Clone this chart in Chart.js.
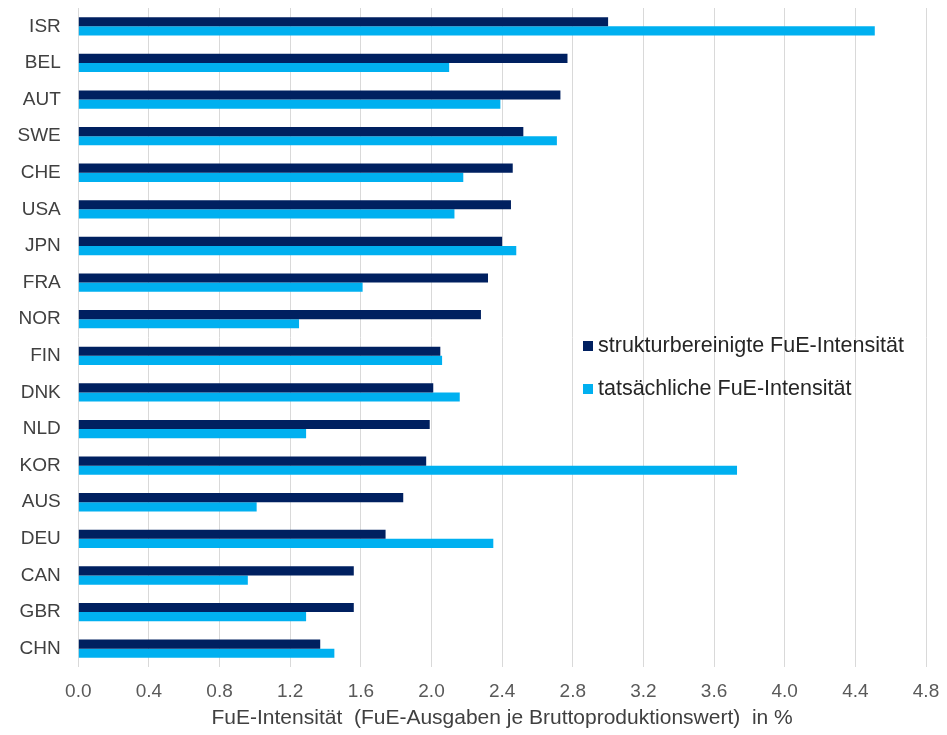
<!DOCTYPE html>
<html>
<head>
<meta charset="utf-8">
<script src="https://cdn.jsdelivr.net/npm/chart.js@4"></script>
<style>
  body { margin: 0; background: #fff; }
</style>
</head>
<body>
<canvas id="chart" width="947" height="735"></canvas>
<script>
const countries = ["ISR", "BEL", "AUT", "SWE", "CHE", "USA", "JPN", "FRA", "NOR", "FIN", "DNK", "NLD", "KOR", "AUS", "DEU", "CAN", "GBR", "CHN"];
const adjusted = [3.00, 2.77, 2.73, 2.52, 2.46, 2.45, 2.40, 2.32, 2.28, 2.05, 2.01, 1.99, 1.97, 1.84, 1.74, 1.56, 1.56, 1.37];
const actual = [4.51, 2.10, 2.39, 2.71, 2.18, 2.13, 2.48, 1.61, 1.25, 2.06, 2.16, 1.29, 3.73, 1.01, 2.35, 0.96, 1.29, 1.45];
const seriesNames = ["strukturbereinigte FuE-Intensität", "tatsächliche FuE-Intensität"];
const xTitle = "FuE-Intensität  (FuE-Ausgaben je Bruttoproduktionswert)  in %";

const fontFamily = "'Liberation Sans', Arial, sans-serif";

// legend drawn inside the plot area, like the original
const innerLegend = {
    id: "innerLegend",
    afterDraw(chart) {
        const ctx = chart.ctx;
        ctx.save();
        ctx.font = "21.5px " + fontFamily;
        ctx.textBaseline = "middle";
        chart.data.datasets.forEach((ds, i) => {
            const y = 346 + i * 43;
            ctx.fillStyle = ds.backgroundColor;
            ctx.fillRect(583, y - 5, 10, 10);
            ctx.fillStyle = "#262626";
            ctx.fillText(ds.label, 598, y);
        });
        ctx.restore();
    }
};

new Chart(document.getElementById("chart").getContext("2d"), {
    type: "bar",
    data: {
        labels: countries,
        datasets: [
            { label: seriesNames[0], data: adjusted, backgroundColor: "#002060" },
            { label: seriesNames[1], data: actual, backgroundColor: "#00B0F0" }
        ]
    },
    options: {
        indexAxis: "y",
        responsive: false,
        animation: false,
        barPercentage: 1.0,
        categoryPercentage: 0.5,
        layout: { padding: { top: 8, right: 21, left: 0, bottom: 4 } },
        scales: {
            x: {
                min: 0,
                max: 4.8,
                afterFit: (scale) => { scale.height -= 12; scale.paddingRight = 0; },
                ticks: {
                    stepSize: 0.4,
                    color: "#595959",
                    font: { family: fontFamily, size: 19 },
                    padding: 13,
                    callback: (v) => Number(v).toFixed(1)
                },
                grid: { color: "#d9d9d9", lineWidth: 1, drawTicks: false },
                border: { display: false },
                title: {
                    display: true,
                    text: xTitle,
                    color: "#404040",
                    font: { family: fontFamily, size: 21 },
                    padding: { top: 2, bottom: 0 }
                }
            },
            y: {
                afterFit: (scale) => { scale.paddingTop = 0; scale.paddingBottom = 0; },
                ticks: {
                    color: "#404040",
                    font: { family: fontFamily, size: 19 },
                    padding: 17.5
                },
                grid: { display: false, drawTicks: false },
                border: { display: false }
            }
        },
        plugins: {
            legend: { display: false },
            tooltip: { enabled: false }
        }
    },
    plugins: [innerLegend]
});
</script>
</body>
</html>
